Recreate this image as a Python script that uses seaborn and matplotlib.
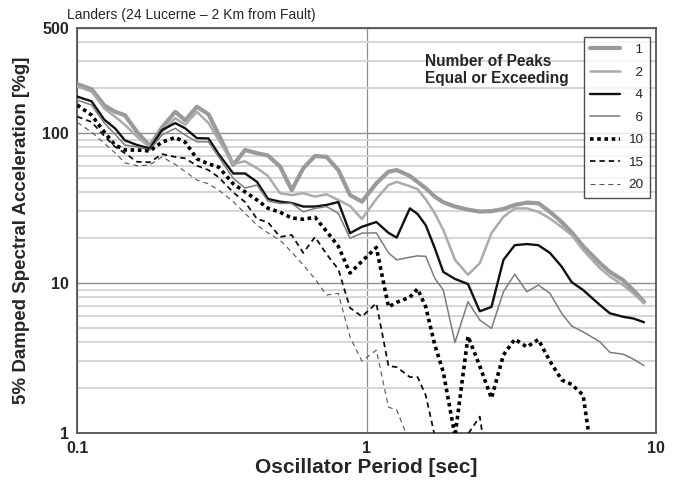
import matplotlib
matplotlib.use("Agg")
import matplotlib.pyplot as plt
import seaborn as sns
import pandas as pd

# oscillator periods [sec]
periods = [0.100, 0.112, 0.124, 0.135, 0.146, 0.161, 0.178, 0.196, 0.218, 0.236,
           0.259, 0.284, 0.308, 0.346, 0.380, 0.418, 0.456, 0.502, 0.551, 0.604,
           0.663, 0.727, 0.798, 0.876, 0.963, 1.08, 1.19, 1.27, 1.41, 1.50,
           1.60, 1.72, 1.84, 2.02, 2.24, 2.46, 2.70, 2.97, 3.25, 3.58,
           3.92, 4.30, 4.72, 5.11, 5.60, 6.40, 6.93, 7.70, 8.34, 9.09]

# spectral acceleration [%g] for number of peaks equal or exceeding
peaks_1 = [211, 195, 152, 138, 131, 101, 81.5, 108, 138, 121,
           149, 133, 97, 61, 76.7, 73, 70.5, 59.5, 41.5, 58,
           70, 69, 56.4, 38.4, 34.7, 46, 55, 56.4, 51.5, 47,
           42.7, 37.5, 34.4, 32.2, 30.7, 29.8, 30, 31, 33, 34.2,
           33.9, 29.7, 25.4, 21.7, 17.5, 13.5, 11.8, 10.4, 8.94, 7.47]
peaks_2 = [204, 188, 145, 128, 113, 94, 80, 101, 125, 113,
           138, 116, 89.4, 62, 64.5, 58, 51.5, 39.5, 38.4, 39.5,
           37.5, 38.9, 35.6, 32.5, 26.6, 36.2, 44.8, 47, 44, 42,
           36, 29, 22.5, 14.2, 11.3, 13.5, 21.4, 27.5, 31.3, 31.3,
           29.7, 26.8, 23.5, 20.8, 16.5, 12.5, 11.0, 9.65, 8.5, 7.3]
peaks_4 = [174, 162, 122, 107, 89, 82.8, 78.5, 104, 116, 107,
           92, 91.6, 72, 53.5, 53.5, 47, 36.2, 34.7, 34.0, 32.2,
           32.2, 33, 34.5, 21.4, 23.6, 25.4, 21.5, 20.0, 31.3, 28.7,
           24.2, 17, 11.8, 10.6, 9.8, 6.45, 6.9, 14.2, 17.8, 18.1,
           17.8, 15.8, 12.8, 10.1, 8.94, 7.1, 6.25, 5.93, 5.78, 5.45]
peaks_6 = [165, 153, 116, 98, 82.8, 80.5, 76.7, 96.5, 107, 96.5,
           87, 87, 69, 49.6, 42.8, 44.8, 35, 33.8, 33.8, 29.7,
           31.3, 32.2, 29, 19.8, 21.4, 21.5, 15.8, 14.2, 14.8, 15.1,
           15.0, 10.7, 8.94, 4.0, 7.47, 5.64, 4.96, 8.7, 11.4, 8.7,
           9.65, 8.5, 6.25, 5.15, 4.7, 4.04, 3.43, 3.34, 3.1, 2.8]
peaks_10 = [153, 131, 101, 82.8, 76.7, 76.7, 75.5, 86.5, 93, 86.5,
            67, 62, 59, 45.6, 40.3, 35.6, 31.4, 29.5, 27.0, 26.5,
            27.3, 22, 17.5, 11.6, 13.9, 17.2, 6.9, 7.4, 8.0, 9.1,
            6.9, 3.84, 2.54, 0.95, 4.4, 2.78, 1.70, 3.3, 4.2, 3.73,
            4.18, 3.0, 2.25, 2.1, 1.78, 0.3]
peaks_15 = [128, 118, 95, 80.7, 73, 64, 63.5, 72, 69, 67.5,
            60.3, 56.4, 50.5, 40, 34.5, 26.6, 25.3, 20.2, 20.8, 15.8,
            20.2, 15.5, 12.3, 6.8, 5.95, 7.3, 2.78, 2.74, 2.35, 2.35,
            1.78, 0.95, 0.6, 0.6, 0.98, 1.28, 0.4]
peaks_20 = [117, 101, 85, 73.5, 63, 60.3, 60.9, 69, 61.5, 55,
            48.4, 45.6, 41.5, 34.7, 29, 24.2, 21.5, 19.2, 16, 13.1,
            10.6, 8.28, 8.5, 4.35, 3.0, 3.56, 1.48, 1.42, 0.85]

series = {"1": peaks_1, "2": peaks_2, "4": peaks_4, "6": peaks_6,
          "10": peaks_10, "15": peaks_15, "20": peaks_20}

styles = {
    "1":  dict(color="#9a9a9a", linewidth=3.0, linestyle="-"),
    "2":  dict(color="#ababab", linewidth=1.8, linestyle="-"),
    "4":  dict(color="#111111", linewidth=1.7, linestyle="-"),
    "6":  dict(color="#7c7c7c", linewidth=1.1, linestyle="-"),
    "10": dict(color="#000000", linewidth=2.6, linestyle=(0, (1, 1))),
    "15": dict(color="#111111", linewidth=1.3, linestyle=(0, (3, 2.2))),
    "20": dict(color="#555555", linewidth=0.8, linestyle=(0, (4.5, 3.5))),
}

sns.set_style("white")
plt.rcParams['font.family'] = ['Liberation Sans', 'DejaVu Sans']

fig = plt.figure(figsize=(6.74, 4.8), dpi=100)
ax = fig.add_axes([0.1147, 0.0985, 0.8586, 0.8434])

handles = []
for name, vals in series.items():
    df = pd.DataFrame({"period": periods[:len(vals)], "sa": vals})
    sns.lineplot(data=df, x="period", y="sa", ax=ax, estimator=None, sort=False,
                 legend=False, zorder=3, **styles[name])
    handles.append(ax.lines[-1])

ax.set_xscale("log")
ax.set_yscale("log")
ax.set_xlim(0.1, 10)
ax.set_ylim(1, 500)

# grid
ax.set_yticks([1, 10, 100, 500])
ax.set_yticklabels(["1", "10", "100", "500"])
ax.set_yticks([2, 3, 4, 5, 6, 7, 8, 9, 20, 30, 40, 50, 60, 70, 80, 90, 200, 300, 400], minor=True)
ax.set_xticks([0.1, 1, 10])
ax.set_xticklabels(["0.1", "1", "10"])
ax.grid(which="minor", axis="y", color="#d6d6d6", linewidth=1.4, zorder=0)
ax.grid(which="major", axis="y", color="#8f8f8f", linewidth=1.0, zorder=0)
ax.grid(which="major", axis="x", color="#8f8f8f", linewidth=0.9, zorder=0)
ax.set_axisbelow(True)

for s in ax.spines.values():
    s.set_color("#555555")
    s.set_linewidth(1.3)

ax.tick_params(which="major", direction="out", length=4, width=1, color="#888888",
               labelsize=11.5, pad=2)
ax.tick_params(which="minor", axis="x", direction="out", length=3, width=0.8, color="#aaaaaa")
ax.tick_params(which="minor", axis="y", length=0)
for t in ax.get_xticklabels() + ax.get_yticklabels():
    t.set_fontweight("bold")

ax.set_xlabel("Oscillator Period [sec]", fontsize=15, fontweight="bold")
ax.set_ylabel("5% Damped Spectral Acceleration [%g]", fontsize=13.5, fontweight="bold")
ax.xaxis.set_label_coords(0.5, (432.7 - 467) / 404.8)
ax.xaxis.label.set_va("center")
ax.yaxis.set_label_coords((21 - 77.3) / 578.7, 0.5)
ax.yaxis.label.set_va("center")

fig.text(67 / 674, 1 - 15 / 480, "Landers (24 Lucerne \u2013 2 Km from Fault)",
         fontsize=10, ha="left", va="center")

labels = ["  " + k if len(k) == 1 else k for k in series.keys()]
leg = ax.legend(handles, labels, loc="upper right", bbox_to_anchor=(0.9896, 0.9775),
                borderaxespad=0, frameon=True, fancybox=False, fontsize=9.7,
                handlelength=2.2, handletextpad=0.6, labelspacing=0.75,
                borderpad=0.5)
leg.get_frame().set_edgecolor("#222222")
leg.get_frame().set_linewidth(1.0)

ax.text((425 - 77.3) / 578.7, (432.7 - 70) / 404.8, "Number of Peaks\nEqual or Exceeding",
        transform=ax.transAxes, fontsize=11.2, fontweight="bold", ha="left", va="center",
        linespacing=1.2)

fig.savefig("out.png", dpi=100)
plt.close(fig)
